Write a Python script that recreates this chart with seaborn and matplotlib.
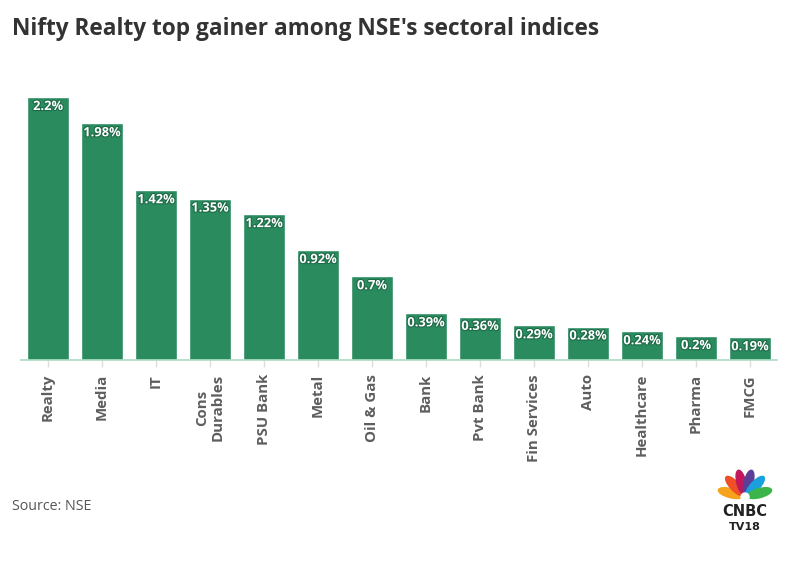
import math
import matplotlib
matplotlib.use("Agg")
import matplotlib.pyplot as plt
import matplotlib.patheffects as pe
from matplotlib.patches import Ellipse
import seaborn as sns
import pandas as pd

# data
sectors = ["Realty", "Media", "IT", "Cons\nDurables", "PSU Bank", "Metal", "Oil & Gas",
           "Bank", "Pvt Bank", "Fin Services", "Auto", "Healthcare", "Pharma", "FMCG"]
gains = [2.2, 1.98, 1.42, 1.35, 1.22, 0.92, 0.7, 0.39, 0.36, 0.29, 0.28, 0.24, 0.2, 0.19]
labels = ["2.2%", "1.98%", "1.42%", "1.35%", "1.22%", "0.92%", "0.7%",
          "0.39%", "0.36%", "0.29%", "0.28%", "0.24%", "0.2%", "0.19%"]

df = pd.DataFrame({"Sector": sectors, "Gain": gains})

sns.set_style("white")
plt.rcParams["font.family"] = ["Open Sans", "DejaVu Sans"]

fig = plt.figure(figsize=(7.96, 5.75), dpi=100)
ax = fig.add_axes([21 / 796, 1 - 360 / 575, 756 / 796, 263 / 575])

sns.barplot(data=df, x="Sector", y="Gain", color="#2a8b5f", saturation=1,
            width=0.78, ax=ax)

ax.set_xlim(-0.5, len(sectors) - 0.5)
ax.set_ylim(0, 2.2)
ax.set_xlabel("")
ax.set_ylabel("")
ax.set_yticks([])
for s in ["top", "right", "left"]:
    ax.spines[s].set_visible(False)
ax.spines["bottom"].set_color("#a9dcc1")
ax.spines["bottom"].set_linewidth(1.2)
ax.tick_params(axis="x", bottom=True, length=5, color="#dddddd", width=1,
               labelsize=10.8, labelcolor="#5e5e5e", rotation=90, pad=5)
for t in ax.get_xticklabels():
    t.set_fontweight("bold")

# value labels
for i, (v, lab) in enumerate(zip(gains, labels)):
    ax.text(i, v - 0.025, lab, ha="center", va="top", fontsize=9.3, color="white",
            fontweight="bold",
            path_effects=[pe.withStroke(linewidth=1.6, foreground="#1d6a47")])

fig.text(12 / 796, 1 - 29 / 575, "Nifty Realty top gainer among NSE's sectoral indices",
         fontsize=16.3, fontweight="bold", color="#333333", va="center")
fig.text(12 / 796, 1 - 506 / 575, "Source: NSE", fontsize=10.3, color="#555555",
         va="center")

# logo
lax = fig.add_axes([712 / 796, 1 - 535 / 575, 66 / 796, 66 / 575])
lax.set_xlim(0, 66)
lax.set_ylim(0, 66)
lax.axis("off")
cols = ["#f6a21b", "#ef4e26", "#c2185b", "#5a3e97", "#1aa0dc", "#3bb54a"]
angs = [165, 133, 104, 76, 47, 15]
for c, a in zip(cols, angs):
    r = 15
    cx = 33 + r * math.cos(math.radians(a))
    cy = 38 + r * math.sin(math.radians(a))
    lax.add_patch(Ellipse((cx, cy), 9, 25, angle=a - 90, color=c))
lax.add_patch(Ellipse((33, 38), 8, 8, color="white"))
lax.text(33, 24, "CNBC", ha="center", va="center", fontsize=10.5, fontweight="bold",
         color="#222222", family="DejaVu Sans")
lax.text(33, 8, "TV18", ha="center", va="center", fontsize=8, fontweight="bold",
         color="#222222", family="DejaVu Sans")

fig.savefig("out.png", dpi=100, facecolor="white")
